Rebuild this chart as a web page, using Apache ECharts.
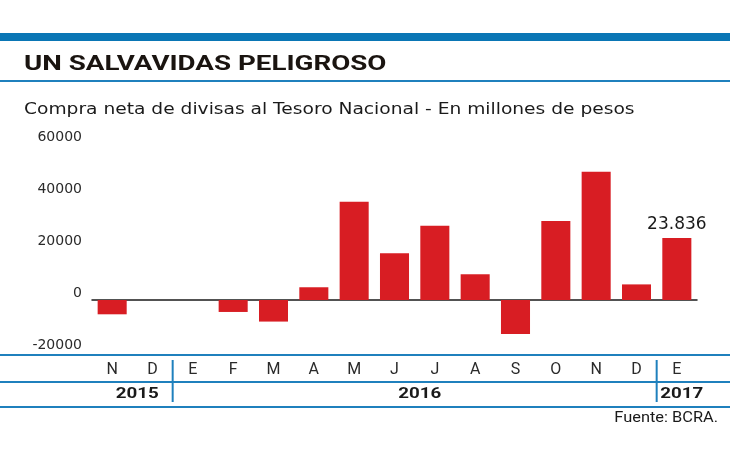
<!DOCTYPE html>
<html>
<head>
<meta charset="utf-8">
<script src="https://cdn.jsdelivr.net/npm/echarts@6/dist/echarts.min.js"></script>
<style>
  html, body { margin: 0; padding: 0; background: #fff; }
  #chart { width: 730px; height: 460px; }
</style>
</head>
<body>
<div id="chart"></div>
<script>
// periodos (unicos) y etiquetas de mes
const periods = ['2015-11', '2015-12', '2016-01', '2016-02', '2016-03', '2016-04', '2016-05',
  '2016-06', '2016-07', '2016-08', '2016-09', '2016-10', '2016-11', '2016-12', '2017-01'];
const monthLabels = ['N', 'D', 'E', 'F', 'M', 'A', 'M', 'J', 'J', 'A', 'S', 'O', 'N', 'D', 'E'];
// compra neta, millones de pesos
const values = [-5500, 0, 0, -4600, -8300, 4900, 37800, 18000, 28600, 9900, -13100, 30400, 49350, 6000, 23836];
const yTicks = [-20000, 0, 20000, 40000, 60000];
const years = ['2015', '2016', '2017'];
const yearSpans = [[0, 1], [2, 13], [14, 14]];

const BLUE = '#1f80bd';
const chart = echarts.init(document.getElementById('chart'));

const option = {
  backgroundColor: '#ffffff',
  animation: false,
  grid: { left: 92, right: 33, top: 144, bottom: 108 },
  xAxis: [
    {
      type: 'category',
      data: periods,
      axisLine: { onZero: true, lineStyle: { color: '#1a1a1a', width: 1.5 } },
      axisTick: { show: false },
      axisLabel: { show: false }
    },
    {
      type: 'category',
      data: periods,
      position: 'bottom',
      axisLine: { show: false, onZero: false },
      axisTick: { show: false },
      axisLabel: {
        margin: 10,
        fontFamily: 'Roboto',
        fontSize: 16,
        color: '#2a2a2a',
        formatter: (v, i) => monthLabels[i]
      }
    }
  ],
  yAxis: {
    type: 'value',
    min: yTicks[0],
    max: yTicks[yTicks.length - 1],
    interval: 20000,
    splitLine: { show: false },
    axisLine: { show: false },
    axisTick: { show: false },
    axisLabel: {
      margin: 10,
      verticalAlign: 'bottom',
      fontFamily: 'DejaVu Sans',
      fontSize: 14,
      color: '#2a2a2a',
      formatter: v => String(v)
    }
  },
  series: [{
    type: 'bar',
    xAxisIndex: 0,
    data: values.map((v, i) => i === values.length - 1
      ? { value: v, label: { show: true, position: 'top', distance: 5, formatter: '23.836' } }
      : v),
    barWidth: '72%',
    itemStyle: { color: '#d81d23' },
    label: { fontFamily: 'DejaVu Sans', fontSize: 17, color: '#1a1a1a' }
  }]
};
chart.setOption(option);

// cabecera y tabla de fechas
const graphics = [
  { type: 'rect', shape: { x: 0, y: 33, width: 730, height: 8 }, style: { fill: '#0a76b5' } },
  { type: 'text', x: 24, y: 65, scaleX: 1.32, style: { text: 'UN SALVAVIDAS PELIGROSO', font: 'bold 21px Roboto', fill: '#1a1410', textVerticalAlign: 'middle' } },
  { type: 'rect', shape: { x: 0, y: 80, width: 730, height: 2 }, style: { fill: BLUE } },
  { type: 'text', x: 24, y: 110, scaleX: 1.165, style: { text: 'Compra neta de divisas al Tesoro Nacional - En millones de pesos', font: '16px "DejaVu Sans"', fill: '#1a1a1a', textVerticalAlign: 'middle' } },
  { type: 'rect', shape: { x: 0, y: 354, width: 730, height: 2 }, style: { fill: BLUE } },
  { type: 'rect', shape: { x: 0, y: 381, width: 730, height: 2 }, style: { fill: BLUE } },
  { type: 'rect', shape: { x: 0, y: 406, width: 730, height: 2 }, style: { fill: BLUE } },
  { type: 'text', x: 718, y: 418, scaleX: 1.17, style: { text: 'Fuente: BCRA.', font: '14px Roboto', fill: '#1a1a1a', textAlign: 'right', textVerticalAlign: 'middle' } }
];

const px = i => chart.convertToPixel({ xAxisIndex: 0 }, periods[i]);
yearSpans.forEach((span, k) => {
  const cx = (px(span[0]) + px(span[1])) / 2;
  graphics.push({ type: 'text', x: cx + 5, y: 394, scaleX: 1.25, style: { text: years[k], font: 'bold 15px Roboto', fill: '#1a1a1a', textAlign: 'center', textVerticalAlign: 'middle' } });
  if (k > 0) {
    const sx = (px(span[0] - 1) + px(span[0])) / 2;
    graphics.push({ type: 'rect', shape: { x: sx - 1, y: 360, width: 2, height: 42 }, style: { fill: BLUE } });
  }
});
chart.setOption({ graphic: graphics });
</script>
</body>
</html>
